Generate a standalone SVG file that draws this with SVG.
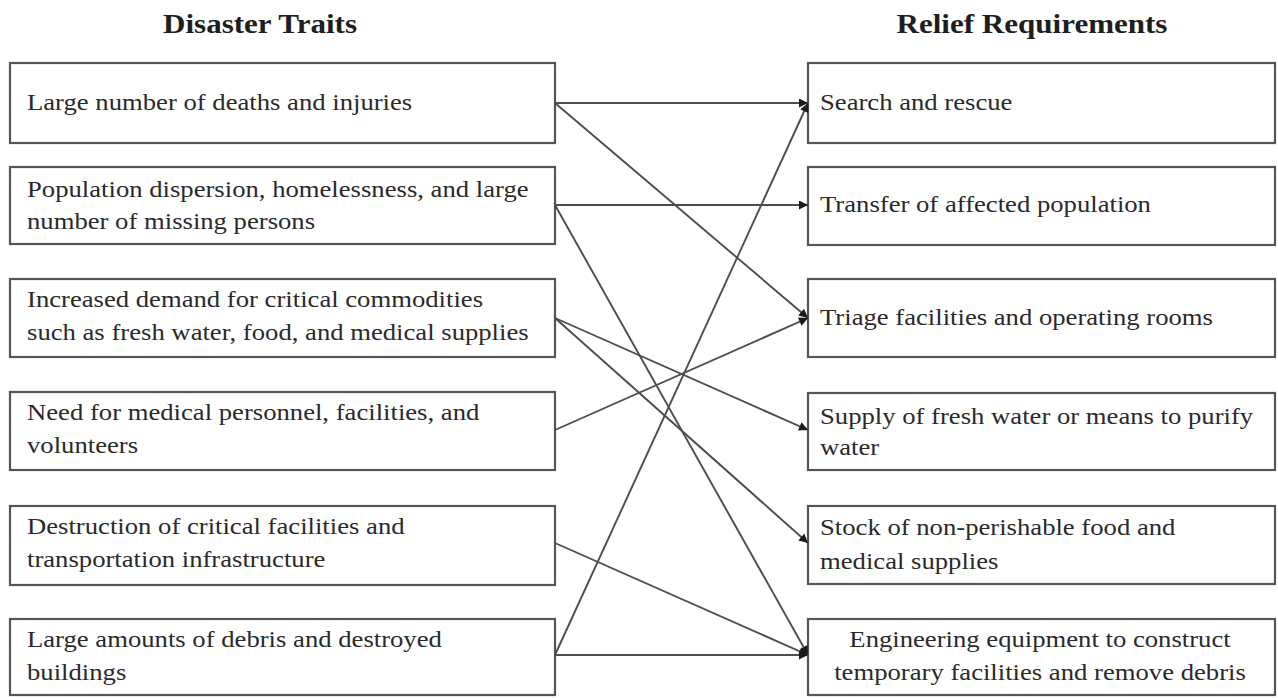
<svg xmlns="http://www.w3.org/2000/svg" width="1278" height="698" viewBox="0 0 1278 698">
  <defs>
    <style>
      .box { fill: #ffffff; stroke: #555555; stroke-width: 2.2; }
      .txt { font-family: "Liberation Serif", "Times New Roman", serif; font-size: 23px; fill: #2a2a2a; }
      .title { font-family: "Liberation Serif", "Times New Roman", serif; font-size: 27px; font-weight: bold; fill: #1e1e1e; text-anchor: middle; }
      .link { stroke: #4d4d4d; stroke-width: 1.9; fill: none; marker-end: url(#arrow); }
    </style>
    <marker id="arrow" viewBox="0 0 10 10" refX="10" refY="5" markerWidth="10" markerHeight="9" markerUnits="userSpaceOnUse" orient="auto">
      <path d="M0,0 L10,5 L0,10 z" fill="#1a1a1a"/>
    </marker>
  </defs>
  <rect width="1278" height="698" fill="#ffffff"/>

  <text class="title" transform="translate(260,33) scale(1.15,1)">Disaster Traits</text>
  <text class="title" transform="translate(1032,33) scale(1.15,1)">Relief  Requirements</text>

  <!-- disaster traits -->
  <g id="trait-casualties">
    <rect class="box" x="10" y="63" width="545" height="80"/>
    <text class="txt" transform="translate(27,110) scale(1.16,1)">Large number of deaths and injuries</text>
  </g>
  <g id="trait-displacement">
    <rect class="box" x="10" y="167" width="545" height="77"/>
    <text class="txt" transform="translate(27,197) scale(1.16,1)">Population dispersion, homelessness, and large</text>
    <text class="txt" transform="translate(27,229) scale(1.16,1)">number of missing persons</text>
  </g>
  <g id="trait-commodities">
    <rect class="box" x="10" y="279" width="545" height="78"/>
    <text class="txt" transform="translate(27,307) scale(1.16,1)">Increased demand for critical commodities</text>
    <text class="txt" transform="translate(27,340) scale(1.16,1)">such as fresh water, food, and medical supplies</text>
  </g>
  <g id="trait-medical">
    <rect class="box" x="10" y="392" width="545" height="78"/>
    <text class="txt" transform="translate(27,420) scale(1.16,1)">Need for medical personnel, facilities, and</text>
    <text class="txt" transform="translate(27,453) scale(1.16,1)">volunteers</text>
  </g>
  <g id="trait-infrastructure">
    <rect class="box" x="10" y="506" width="545" height="79"/>
    <text class="txt" transform="translate(27,534) scale(1.16,1)">Destruction of critical facilities and</text>
    <text class="txt" transform="translate(27,567) scale(1.16,1)">transportation infrastructure</text>
  </g>
  <g id="trait-debris">
    <rect class="box" x="10" y="619" width="545" height="76"/>
    <text class="txt" transform="translate(27,647) scale(1.16,1)">Large amounts of debris and destroyed</text>
    <text class="txt" transform="translate(27,680) scale(1.16,1)">buildings</text>
  </g>

  <!-- relief requirements -->
  <g id="req-search">
    <rect class="box" x="808" y="63" width="467" height="80"/>
    <text class="txt" transform="translate(820,110) scale(1.16,1)">Search and rescue</text>
  </g>
  <g id="req-transfer">
    <rect class="box" x="808" y="167" width="467" height="78"/>
    <text class="txt" transform="translate(820,212) scale(1.16,1)">Transfer of affected population</text>
  </g>
  <g id="req-triage">
    <rect class="box" x="808" y="279" width="467" height="78"/>
    <text class="txt" transform="translate(820,325) scale(1.16,1)">Triage facilities and operating rooms</text>
  </g>
  <g id="req-water">
    <rect class="box" x="808" y="393" width="467" height="77"/>
    <text class="txt" transform="translate(820,424) scale(1.16,1)">Supply of fresh water or means to purify</text>
    <text class="txt" transform="translate(820,455) scale(1.16,1)">water</text>
  </g>
  <g id="req-stock">
    <rect class="box" x="808" y="506" width="467" height="78"/>
    <text class="txt" transform="translate(820,535) scale(1.16,1)">Stock of non-perishable food and</text>
    <text class="txt" transform="translate(820,569) scale(1.16,1)">medical supplies</text>
  </g>
  <g id="req-engineering">
    <rect class="box" x="808" y="619" width="467" height="76"/>
    <text class="txt" text-anchor="middle" transform="translate(1040,647) scale(1.16,1)">Engineering equipment to construct</text>
    <text class="txt" text-anchor="middle" transform="translate(1040,680) scale(1.16,1)">temporary facilities and remove debris</text>
  </g>

  <!-- connectors -->
  <g id="connectors">
    <line class="link" x1="555" y1="103" x2="808" y2="103"/>
    <line class="link" x1="555" y1="103" x2="808" y2="318"/>
    <line class="link" x1="555" y1="205" x2="808" y2="205"/>
    <line class="link" x1="555" y1="205" x2="808" y2="655"/>
    <line class="link" x1="555" y1="318" x2="808" y2="430"/>
    <line class="link" x1="555" y1="318" x2="808" y2="543"/>
    <line class="link" x1="555" y1="430" x2="808" y2="318"/>
    <line class="link" x1="555" y1="543" x2="808" y2="655"/>
    <line class="link" x1="555" y1="655" x2="808" y2="103"/>
    <line class="link" x1="555" y1="655" x2="808" y2="655"/>
  </g>
</svg>
